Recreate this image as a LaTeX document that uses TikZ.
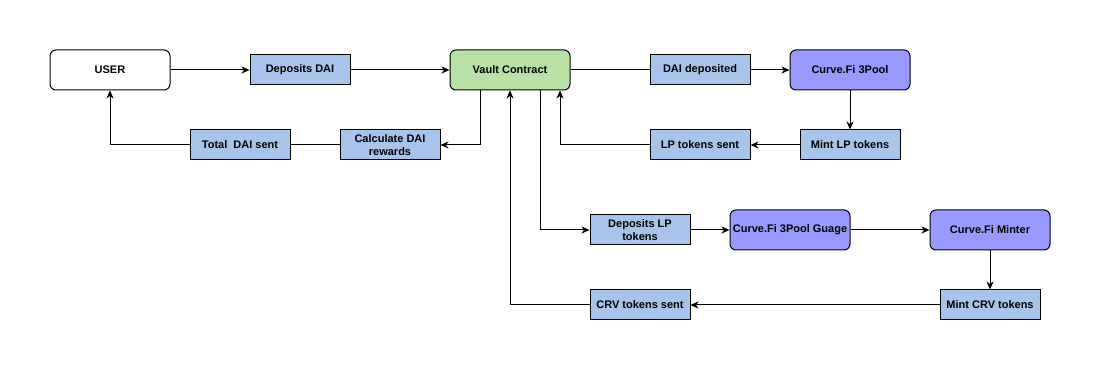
\documentclass[tikz,border=0pt]{standalone}
\usepackage{fontspec}
\setmainfont{Liberation Sans}
\usepackage{tikz}
\usetikzlibrary{arrows.meta,positioning}
\definecolor{stepblue}{HTML}{A9C4EB}
\definecolor{vaultgreen}{HTML}{B9E0A5}
\definecolor{curvepurple}{HTML}{9999FF}

\begin{document}
\begin{tikzpicture}[
      x=1pt, y=-1pt,
      base/.style={rectangle, draw=black, line width=1pt, align=center,
                   font=\fontsize{11}{13.5}\selectfont\bfseries, inner sep=1pt},
      actor/.style={base, rounded corners=6pt, minimum width=120pt, minimum height=40pt},
      stepbox/.style={base, fill=stepblue, minimum width=100pt, minimum height=30pt},
      arrow/.style={-{Stealth[length=8pt, width=7pt, inset=2.5pt]}, line width=1pt},
      link/.style={line width=1pt}
    ]
      \useasboundingbox (0,0) rectangle (1101,371);
      %% top row
      \node[actor, fill=white] (user) at (110,70) {USER};
      \node[stepbox] (depdai) at (300,70) {Deposits DAI};
      \node[actor, fill=vaultgreen] (vault) at (510,70) {Vault Contract};
      \node[stepbox] (daidep) at (700,70) {DAI deposited};
      \node[actor, fill=curvepurple] (pool) at (850,70) {Curve.Fi 3Pool};
      %% return row
      \node[stepbox] (totaldai) at (240,145) {Total~ DAI sent};
      \node[stepbox] (calc) at (390,145) {Calculate DAI\\rewards};
      \node[stepbox] (lpsent) at (700,145) {LP tokens sent};
      \node[stepbox] (mintlp) at (850,145) {Mint LP tokens};
      %% gauge row
      \node[stepbox] (deplp) at (640,230) {Deposits LP\\tokens};
      \node[actor, fill=curvepurple] (gauge) at (790,230) {Curve.Fi 3Pool Guage};
      \node[actor, fill=curvepurple] (minter) at (990,230) {Curve.Fi Minter};
      \node[stepbox] (crvsent) at (640,305) {CRV tokens sent};
      \node[stepbox] (mintcrv) at (990,305) {Mint CRV tokens};
      %% DAI into the vault and on to the pool
      \draw[arrow] (user) -- (depdai);
      \draw[arrow] (depdai) -- (vault);
      \draw[link] (vault) -- (daidep);
      \draw[arrow] (daidep) -- (pool);
      \draw[arrow] (pool) -- (mintlp);
      \draw[arrow] (mintlp) -- (lpsent);
      \draw[arrow] (lpsent.west) -| ([xshift=50pt]vault.south);
      %% rewards back to the user
      \draw[arrow] ([xshift=-30pt]vault.south) |- (calc.east);
      \draw[link] (calc) -- (totaldai);
      \draw[arrow] (totaldai.west) -| (user.south);
      %% LP tokens staked in the gauge
      \draw[arrow] ([xshift=30pt]vault.south) |- (deplp.west);
      \draw[arrow] (deplp) -- (gauge);
      \draw[arrow] (gauge) -- (minter);
      \draw[arrow] (minter) -- (mintcrv);
      \draw[arrow] (mintcrv) -- (crvsent);
      \draw[arrow] (crvsent.west) -| (vault.south);
    \end{tikzpicture}
\end{document}
